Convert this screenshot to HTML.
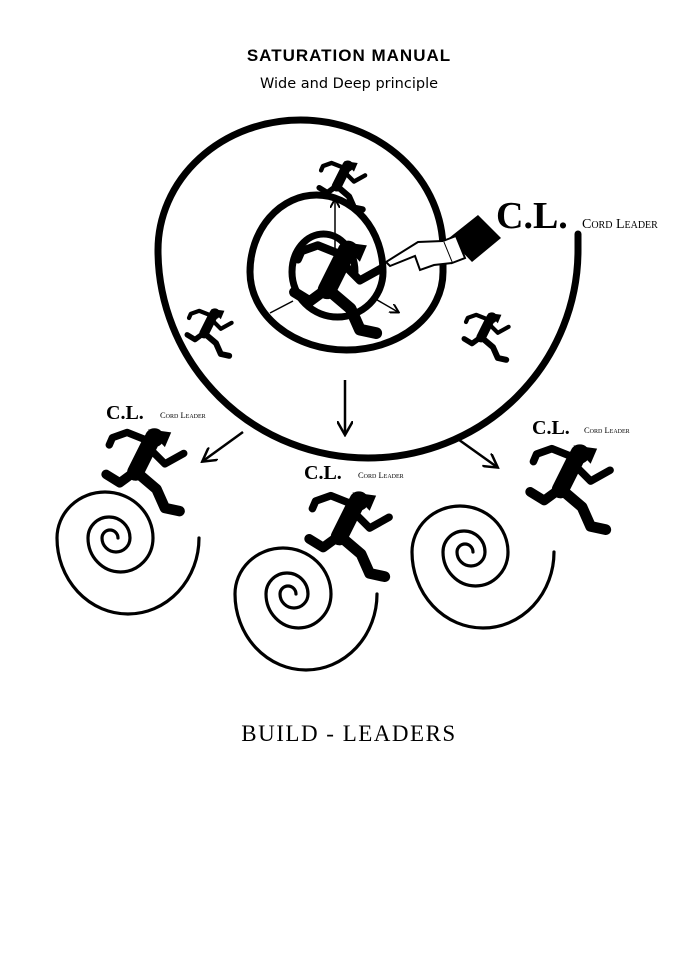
<!DOCTYPE html>
<html><head><meta charset="utf-8"><style>
html,body{margin:0;padding:0;background:#fff;}
svg{display:block;}
</style></head><body>
<svg width="698" height="960" viewBox="0 0 698 960" xmlns="http://www.w3.org/2000/svg">
<defs>
<g id="r">
  <circle cx="48" cy="13" r="9" fill="#000"/>
  <path d="M42 5 L64 8 L58 22 Z" fill="#000"/>
  <g fill="none" stroke="#000" stroke-linecap="round" stroke-linejoin="round">
    <path d="M45 16 L30 46" stroke-width="16"/>
    <path d="M42 16 L22 8 L8 13 L5 20" stroke-width="7"/>
    <path d="M42 22 L58 38 L76 28" stroke-width="7"/>
    <path d="M30 45 L15 56 L2 48" stroke-width="9"/>
    <path d="M30 45 L50 62 L58 80 L72 83" stroke-width="10"/>
  </g>
</g>
<marker id="a" markerWidth="10" markerHeight="10" refX="8" refY="5" orient="auto" markerUnits="userSpaceOnUse">
  <path d="M0 0 L9 5 L0 10" fill="none" stroke="#000" stroke-width="2"/>
</marker>
<marker id="b" markerWidth="16" markerHeight="16" refX="13" refY="8" orient="auto" markerUnits="userSpaceOnUse">
  <path d="M0 0 L14 8 L0 16" fill="none" stroke="#000" stroke-width="2.5"/>
</marker>
</defs>

<text x="349" y="61" text-anchor="middle" font-family="Liberation Sans, sans-serif" font-weight="bold" font-size="17" letter-spacing="1">SATURATION MANUAL</text>
<text x="349" y="88" text-anchor="middle" font-family="DejaVu Sans, sans-serif" font-size="14.5">Wide and Deep principle</text>

<!-- big spiral -->
<path d="M578 234 L578 250 A210 208 0 0 1 158 250 A142.5 130 0 0 1 443 250 L443 272 A96.5 78 0 0 1 250 272 A66.5 77 0 0 1 383 272 A45.5 45 0 0 1 292 272 A31.5 38 0 0 1 355 272"
 fill="none" stroke="#000" stroke-width="7" stroke-linecap="round"/>

<!-- inner arrows -->
<line x1="335" y1="258" x2="335" y2="200" stroke="#000" stroke-width="1.5" marker-end="url(#a)"/>
<line x1="293" y1="301" x2="270" y2="313" stroke="#000" stroke-width="1.5"/>
<line x1="372" y1="297" x2="398" y2="312" stroke="#000" stroke-width="1.5" marker-end="url(#a)"/>

<!-- runners in big spiral -->
<use href="#r" transform="translate(318,158) scale(0.62)"/>
<use href="#r" transform="translate(186,306) scale(0.6)"/>
<use href="#r" transform="translate(463,310) scale(0.6)"/>
<use href="#r" transform="translate(292,236) scale(1.17)"/>

<!-- hand -->
<path d="M449 238 L478 215 L501 238 L472 262 Z" fill="#000"/>
<path d="M443 241 L456 236 L465 258 L452 263 Z" fill="#fff" stroke="#000" stroke-width="2"/>
<path d="M443 241 L418 242 L386 262 L390 266 L415 256 L420 270 L434 265 L452 263" fill="#fff" stroke="#000" stroke-width="2"/>

<!-- C.L. labels -->
<text x="496" y="228" font-family="Liberation Serif, serif" font-weight="bold" font-size="38">C.L.</text>
<text x="582" y="228" font-family="Liberation Serif, serif" font-size="14" font-variant="small-caps">Cord Leader</text>
<text x="106" y="419" font-family="Liberation Serif, serif" font-weight="bold" font-size="20">C.L.</text>
<text x="160" y="418" font-family="Liberation Serif, serif" font-size="8.5" font-variant="small-caps">Cord Leader</text>
<text x="304" y="479" font-family="Liberation Serif, serif" font-weight="bold" font-size="20">C.L.</text>
<text x="358" y="478" font-family="Liberation Serif, serif" font-size="8.5" font-variant="small-caps">Cord Leader</text>
<text x="532" y="434" font-family="Liberation Serif, serif" font-weight="bold" font-size="20">C.L.</text>
<text x="584" y="433" font-family="Liberation Serif, serif" font-size="8.5" font-variant="small-caps">Cord Leader</text>

<!-- arrows down -->
<line x1="345" y1="380" x2="345" y2="434" stroke="#000" stroke-width="2.5" marker-end="url(#b)"/>
<line x1="243" y1="432" x2="203" y2="461" stroke="#000" stroke-width="2.5" marker-end="url(#b)"/>
<line x1="455" y1="437" x2="497" y2="467" stroke="#000" stroke-width="2.5" marker-end="url(#b)"/>

<!-- small spirals -->
<g id="s" fill="none" stroke="#000" stroke-width="3.2" stroke-linecap="round">
<path d="M199 538 A71 76 0 0 1 57 538 A48 46 0 0 1 153 538 A32.5 34 0 0 1 88 538 A21 21 0 0 1 130 538 A14 14 0 0 1 102 538 A8 8 0 0 1 118 538"/>
</g>
<use href="#s" transform="translate(178,56)"/>
<use href="#s" transform="translate(355,14)"/>

<!-- runners above small spirals -->
<use href="#r" transform="translate(104,424) scale(1.05)"/>
<use href="#r" transform="translate(307,487) scale(1.08)"/>
<use href="#r" transform="translate(528,440) scale(1.08)"/>

<text x="349" y="741" text-anchor="middle" font-family="Liberation Serif, serif" font-size="23" letter-spacing="1.5">BUILD - LEADERS</text>
</svg>
</body></html>
